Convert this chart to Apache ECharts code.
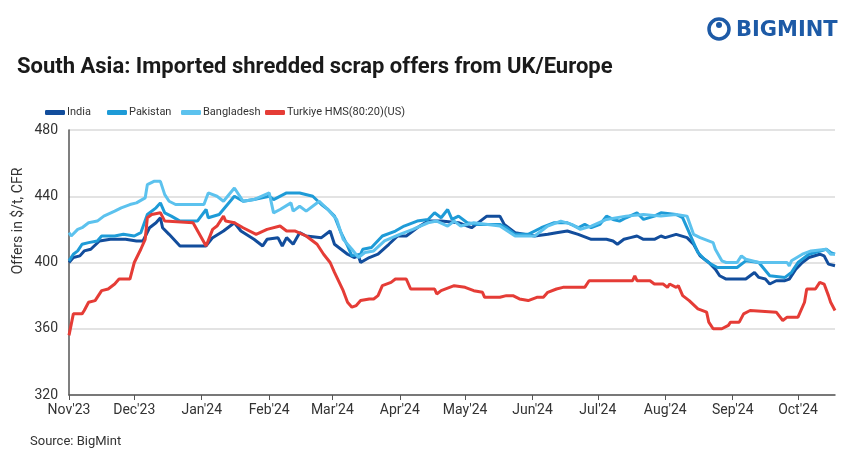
<!DOCTYPE html>
<html>
<head>
<meta charset="utf-8">
<title>South Asia: Imported shredded scrap offers from UK/Europe</title>
<script src="https://cdn.jsdelivr.net/npm/echarts@6/dist/echarts.min.js"></script>
<style>
  html, body { margin: 0; padding: 0; background: #fff; }
  #chart { width: 842px; height: 451px; }
</style>
</head>
<body>
<div id="chart"></div>
<script>
// offers in $/t CFR (date, value)
const indiaData = [
  ['2023-11-01', 400], ['2023-11-03', 403], ['2023-11-06', 404], ['2023-11-08', 407], ['2023-11-11', 408],
  ['2023-11-15', 413], ['2023-11-20', 414], ['2023-11-27', 414], ['2023-12-02', 413], ['2023-12-05', 413],
  ['2023-12-08', 421], ['2023-12-11', 424], ['2023-12-13', 427], ['2023-12-14', 421], ['2023-12-17', 417],
  ['2023-12-22', 410], ['2024-01-03', 410], ['2024-01-06', 415], ['2024-01-11', 419], ['2024-01-16', 424],
  ['2024-01-19', 419], ['2024-01-25', 414], ['2024-01-29', 410], ['2024-01-31', 414], ['2024-02-05', 415],
  ['2024-02-07', 410], ['2024-02-09', 415], ['2024-02-12', 411], ['2024-02-15', 418], ['2024-02-18', 416],
  ['2024-02-25', 415], ['2024-02-29', 419], ['2024-03-02', 411], ['2024-03-05', 408], ['2024-03-08', 405],
  ['2024-03-11', 403], ['2024-03-13', 404], ['2024-03-14', 400], ['2024-03-18', 403], ['2024-03-22', 405],
  ['2024-03-27', 411], ['2024-03-31', 416], ['2024-04-04', 416], ['2024-04-09', 421], ['2024-04-14', 425],
  ['2024-04-20', 425], ['2024-04-28', 424], ['2024-05-04', 421], ['2024-05-08', 425], ['2024-05-11', 428],
  ['2024-05-17', 428], ['2024-05-19', 423], ['2024-05-24', 418], ['2024-06-02', 416], ['2024-06-08', 417],
  ['2024-06-12', 418], ['2024-06-17', 419], ['2024-06-22', 417], ['2024-06-28', 414], ['2024-07-05', 414],
  ['2024-07-08', 413], ['2024-07-10', 411], ['2024-07-13', 414], ['2024-07-16', 415], ['2024-07-19', 416],
  ['2024-07-22', 414], ['2024-07-27', 414], ['2024-07-30', 416], ['2024-08-01', 415], ['2024-08-06', 417],
  ['2024-08-11', 415], ['2024-08-14', 411], ['2024-08-17', 404], ['2024-08-21', 400], ['2024-08-24', 396],
  ['2024-08-26', 392], ['2024-08-29', 390], ['2024-09-07', 390], ['2024-09-11', 394], ['2024-09-13', 391],
  ['2024-09-16', 390], ['2024-09-18', 387], ['2024-09-21', 389], ['2024-09-25', 389], ['2024-09-27', 390],
  ['2024-09-30', 396], ['2024-10-03', 400], ['2024-10-06', 403], ['2024-10-11', 405], ['2024-10-13', 404],
  ['2024-10-15', 399], ['2024-10-18', 398]
];
const pakistanData = [
  ['2023-11-01', 401], ['2023-11-03', 405], ['2023-11-05', 407], ['2023-11-07', 411], ['2023-11-10', 412],
  ['2023-11-14', 413], ['2023-11-16', 416], ['2023-11-22', 416], ['2023-11-26', 417], ['2023-12-01', 416],
  ['2023-12-04', 418], ['2023-12-07', 429], ['2023-12-11', 433], ['2023-12-13', 436], ['2023-12-15', 430],
  ['2023-12-18', 428], ['2023-12-22', 425], ['2023-12-30', 425], ['2024-01-03', 432], ['2024-01-04', 427],
  ['2024-01-09', 429], ['2024-01-16', 440], ['2024-01-20', 437], ['2024-01-25', 438], ['2024-02-01', 440],
  ['2024-02-03', 438], ['2024-02-09', 442], ['2024-02-15', 442], ['2024-02-21', 440], ['2024-02-25', 435],
  ['2024-02-28', 432], ['2024-03-02', 428], ['2024-03-05', 418], ['2024-03-08', 410], ['2024-03-10', 404],
  ['2024-03-14', 405], ['2024-03-15', 408], ['2024-03-19', 409], ['2024-03-24', 416], ['2024-03-30', 419],
  ['2024-04-03', 422], ['2024-04-09', 425], ['2024-04-14', 426], ['2024-04-17', 430], ['2024-04-20', 427],
  ['2024-04-23', 432], ['2024-04-25', 426], ['2024-04-28', 428], ['2024-05-02', 424], ['2024-05-07', 423],
  ['2024-05-17', 423], ['2024-05-20', 421], ['2024-05-24', 417], ['2024-05-30', 417], ['2024-06-05', 421],
  ['2024-06-11', 424], ['2024-06-17', 424], ['2024-06-22', 421], ['2024-06-25', 423], ['2024-06-28', 421],
  ['2024-07-02', 423], ['2024-07-05', 428], ['2024-07-08', 426], ['2024-07-11', 425], ['2024-07-14', 427],
  ['2024-07-19', 430], ['2024-07-22', 426], ['2024-07-27', 428], ['2024-07-30', 430], ['2024-08-06', 429],
  ['2024-08-09', 427], ['2024-08-11', 421], ['2024-08-14', 412], ['2024-08-16', 406], ['2024-08-19', 402],
  ['2024-08-22', 399], ['2024-08-25', 397], ['2024-09-03', 397], ['2024-09-07', 401], ['2024-09-13', 400],
  ['2024-09-18', 392], ['2024-09-25', 391], ['2024-09-28', 394], ['2024-10-01', 400], ['2024-10-06', 405],
  ['2024-10-14', 408], ['2024-10-16', 406], ['2024-10-18', 405]
];
const bangladeshData = [
  ['2023-11-01', 418], ['2023-11-02', 416], ['2023-11-05', 420], ['2023-11-07', 421], ['2023-11-10', 424],
  ['2023-11-14', 425], ['2023-11-17', 428], ['2023-11-22', 431], ['2023-11-25', 433], ['2023-11-29', 435],
  ['2023-12-02', 436], ['2023-12-06', 439], ['2023-12-07', 447], ['2023-12-10', 449], ['2023-12-13', 449],
  ['2023-12-15', 441], ['2023-12-17', 437], ['2023-12-20', 435], ['2024-01-02', 435], ['2024-01-04', 442],
  ['2024-01-08', 440], ['2024-01-11', 437], ['2024-01-16', 445], ['2024-01-20', 437], ['2024-01-25', 438],
  ['2024-02-01', 442], ['2024-02-03', 430], ['2024-02-06', 432], ['2024-02-11', 436], ['2024-02-12', 431],
  ['2024-02-15', 434], ['2024-02-18', 431], ['2024-02-24', 437], ['2024-02-28', 432], ['2024-03-03', 426],
  ['2024-03-06', 414], ['2024-03-10', 408], ['2024-03-13', 403], ['2024-03-16', 406], ['2024-03-20', 407],
  ['2024-03-25', 413], ['2024-04-01', 417], ['2024-04-07', 420], ['2024-04-14', 424], ['2024-04-18', 425],
  ['2024-04-23', 422], ['2024-04-26', 425], ['2024-04-29', 422], ['2024-05-05', 424], ['2024-05-17', 422],
  ['2024-05-24', 416], ['2024-06-02', 416], ['2024-06-08', 422], ['2024-06-14', 425], ['2024-06-19', 423],
  ['2024-06-23', 420], ['2024-06-28', 422], ['2024-07-05', 426], ['2024-07-14', 428], ['2024-07-22', 429],
  ['2024-07-30', 428], ['2024-08-06', 429], ['2024-08-11', 428], ['2024-08-14', 417], ['2024-08-17', 415],
  ['2024-08-23', 412], ['2024-08-24', 408], ['2024-08-27', 401], ['2024-08-29', 400], ['2024-09-03', 400],
  ['2024-09-05', 404], ['2024-09-07', 402], ['2024-09-13', 400], ['2024-09-26', 400], ['2024-09-27', 398],
  ['2024-09-28', 401], ['2024-10-03', 405], ['2024-10-07', 407], ['2024-10-14', 408], ['2024-10-16', 405],
  ['2024-10-18', 405]
];
const turkiyeData = [
  ['2023-11-01', 356], ['2023-11-03', 369], ['2023-11-07', 369], ['2023-11-08', 371], ['2023-11-10', 376],
  ['2023-11-13', 377], ['2023-11-16', 383], ['2023-11-19', 384], ['2023-11-22', 387], ['2023-11-24', 390],
  ['2023-11-29', 390], ['2023-12-01', 400], ['2023-12-04', 408], ['2023-12-06', 414], ['2023-12-07', 427],
  ['2023-12-09', 429], ['2023-12-13', 430], ['2023-12-15', 425], ['2023-12-28', 424], ['2024-01-03', 410],
  ['2024-01-06', 420], ['2024-01-08', 422], ['2024-01-11', 428], ['2024-01-12', 425], ['2024-01-16', 424],
  ['2024-01-20', 421], ['2024-01-26', 417], ['2024-01-31', 420], ['2024-02-06', 422], ['2024-02-09', 419],
  ['2024-02-13', 419], ['2024-02-18', 416], ['2024-02-23', 411], ['2024-02-26', 405], ['2024-02-29', 400],
  ['2024-03-02', 394], ['2024-03-06', 383], ['2024-03-08', 376], ['2024-03-10', 373], ['2024-03-12', 374],
  ['2024-03-14', 377], ['2024-03-18', 378], ['2024-03-20', 378], ['2024-03-22', 380], ['2024-03-24', 386],
  ['2024-03-28', 388], ['2024-03-30', 390], ['2024-04-04', 390], ['2024-04-06', 384], ['2024-04-17', 384],
  ['2024-04-18', 381], ['2024-04-20', 383], ['2024-04-26', 386], ['2024-05-01', 385], ['2024-05-05', 383],
  ['2024-05-09', 382], ['2024-05-10', 379], ['2024-05-17', 379], ['2024-05-20', 380], ['2024-05-23', 380],
  ['2024-05-26', 378], ['2024-05-30', 377], ['2024-06-03', 379], ['2024-06-06', 379], ['2024-06-08', 382],
  ['2024-06-12', 384], ['2024-06-15', 385], ['2024-06-25', 385], ['2024-06-27', 389], ['2024-07-17', 389],
  ['2024-07-18', 392], ['2024-07-19', 389], ['2024-07-25', 389], ['2024-07-27', 387], ['2024-07-31', 387],
  ['2024-08-02', 385], ['2024-08-03', 387], ['2024-08-06', 385], ['2024-08-07', 386], ['2024-08-09', 380],
  ['2024-08-12', 377], ['2024-08-16', 372], ['2024-08-20', 370], ['2024-08-21', 364], ['2024-08-23', 360],
  ['2024-08-27', 360], ['2024-08-30', 362], ['2024-08-31', 364], ['2024-09-04', 364], ['2024-09-06', 369],
  ['2024-09-09', 371], ['2024-09-21', 370], ['2024-09-24', 365], ['2024-09-26', 367], ['2024-10-01', 367],
  ['2024-10-04', 376], ['2024-10-05', 384], ['2024-10-09', 384], ['2024-10-11', 388], ['2024-10-13', 387],
  ['2024-10-15', 380], ['2024-10-16', 376], ['2024-10-18', 371]
];
const seriesNames = ['India', 'Pakistan', 'Bangladesh', 'Turkiye HMS(80:20)(US)'];
const monthTicks = [
  '2023-11-01', '2023-12-01', '2024-01-01', '2024-02-01', '2024-03-01', '2024-04-01',
  '2024-05-01', '2024-06-01', '2024-07-01', '2024-08-01', '2024-09-01', '2024-10-01'
];
const monthNames = ['Jan', 'Feb', 'Mar', 'Apr', 'May', 'Jun', 'Jul', 'Aug', 'Sep', 'Oct', 'Nov', 'Dec'];
const endDate = '2024-10-18';

const chart = echarts.init(document.getElementById('chart'));
const toTime = d => echarts.number.parseDate(d).getTime();
const tickTimes = monthTicks.map(toTime);
const font = 'Roboto, "Liberation Sans", sans-serif';
const blue = '#1d5aa6';
const colors = ['#124d9c', '#1e9bd7', '#5cc2ee', '#e53c36'];
const legendLeft = [40, 102, 176, 260];

function lineSeries(name, data, color) {
  return {
    name: name,
    type: 'line',
    data: data.map(p => [toTime(p[0]), p[1]]),
    showSymbol: false,
    symbol: 'none',
    lineStyle: { color: color, width: 3 },
    itemStyle: { color: color },
    emphasis: { disabled: true }
  };
}

// one legend per item so each sits where the reference has it
const legends = seriesNames.map((n, i) => ({
  data: [n],
  left: legendLeft[i],
  top: 102,
  icon: 'roundRect',
  itemWidth: 20,
  itemHeight: 5,
  textStyle: { fontSize: 11, color: '#333', fontFamily: font, padding: [0, 0, 0, -3] }
}));

const option = {
  backgroundColor: '#fff',
  textStyle: { fontFamily: font },
  animation: false,
  grid: { left: 69, right: 7, top: 130, bottom: 56, containLabel: false },
  legend: legends,
  graphic: [
    {
      type: 'text', left: 17, top: 56,
      style: { text: 'South Asia: Imported shredded scrap offers from UK/Europe', fontSize: 22, fontWeight: 'bold', fill: '#1a1a1a', fontFamily: font }
    },
    {
      type: 'circle', shape: { cx: 719, cy: 29, r: 10 },
      style: { fill: 'none', stroke: blue, lineWidth: 3.5 }
    },
    {
      type: 'circle', shape: { cx: 719, cy: 25, r: 3 },
      style: { fill: blue }
    },
    {
      type: 'text', x: 736, y: 31,
      style: { text: 'BIGMINT', fontSize: 21, fontWeight: 'bold', fill: blue, fontFamily: '"DejaVu Sans", sans-serif', textVerticalAlign: 'middle' }
    },
    {
      type: 'text', x: 18, y: 221, rotation: Math.PI / 2,
      style: { text: 'Offers in $/t, CFR', fontSize: 14, fill: '#333', fontFamily: font, textAlign: 'center', textVerticalAlign: 'middle' }
    },
    {
      type: 'text', x: 30, y: 442,
      style: { text: 'Source: BigMint', fontSize: 13, fill: '#333', fontFamily: font, textVerticalAlign: 'middle' }
    }
  ],
  xAxis: {
    type: 'value',
    min: tickTimes[0],
    max: toTime(endDate),
    axisLine: { show: true, lineStyle: { color: '#555', width: 1.5 } },
    axisTick: { show: true, length: 5, lineStyle: { color: '#555' }, customValues: tickTimes },
    splitLine: { show: false },
    axisLabel: {
      customValues: tickTimes,
      fontSize: 14,
      color: '#333',
      margin: 8,
      fontFamily: font,
      formatter: function (value) {
        const d = new Date(value);
        return monthNames[d.getMonth()] + "'" + String(d.getFullYear()).slice(2);
      }
    }
  },
  yAxis: {
    type: 'value',
    min: 320,
    max: 480,
    interval: 40,
    axisLine: { show: true, lineStyle: { color: '#555', width: 1.5 } },
    axisTick: { show: false },
    splitLine: { lineStyle: { color: '#dadada', width: 1.5 } },
    axisLabel: { fontSize: 14, color: '#333', margin: 11, fontFamily: font }
  },
  series: seriesNames.map((n, i) =>
    lineSeries(n, [indiaData, pakistanData, bangladeshData, turkiyeData][i], colors[i]))
};

chart.setOption(option);
</script>
</body>
</html>
